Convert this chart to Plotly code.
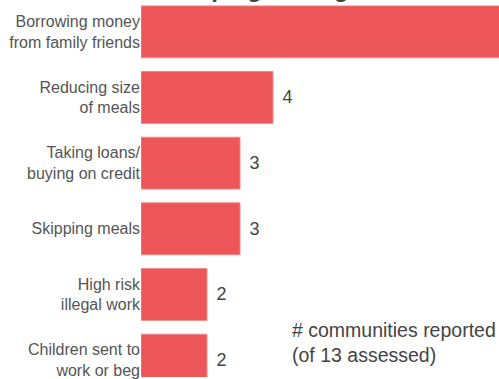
import plotly.graph_objects as go

categories = [
    "Borrowing money<br>from family friends",
    "Reducing size<br>of meals",
    "Taking loans/<br>buying on credit",
    "Skipping meals",
    "High risk<br>illegal work",
    "Children sent to<br>work or beg",
]
values = [11, 4, 3, 3, 2, 2]
title_text = "<b>Main coping strategies</b>"
note_text = "# communities reported<br>(of 13 assessed)"

FONT = "Liberation Sans, Arial, sans-serif"

fig = go.Figure(
    go.Bar(
        x=values,
        y=categories,
        orientation="h",
        marker=dict(color="#EC5658", line=dict(color="#F28A8B", width=1)),
        text=values,
        texttemplate="&nbsp;\u200a%{x}",
        textposition="outside",
        textfont=dict(family=FONT, size=18, color="#444444"),
        cliponaxis=True,
        hoverinfo="skip",
    )
)

fig.update_layout(
    width=499,
    height=379,
    margin=dict(l=141, r=0, t=0, b=0),
    paper_bgcolor="white",
    plot_bgcolor="white",
    bargap=0.21,
    showlegend=False,
    font=dict(family=FONT),
    xaxis=dict(range=[0, 358 / 33], visible=False, fixedrange=True),
    yaxis=dict(
        type="category",
        range=[(379 - 32) / 66, -32 / 66],
        showgrid=False,
        zeroline=False,
        showline=False,
        ticks="",
        fixedrange=True,
        tickfont=dict(family=FONT, size=16, color="#555555"),
    ),
    annotations=[
        dict(
            text=note_text,
            xref="paper", yref="paper",
            x=(290 - 141) / 358, y=(379 - 319) / 379,
            xanchor="left", yanchor="top",
            align="left", showarrow=False,
            font=dict(family=FONT, size=19.5, color="#444444"),
        ),
        dict(
            text=title_text,
            xref="paper", yref="paper",
            x=(252 - 141) / 358, y=1.0 - 4 / 379,
            xanchor="center", yanchor="bottom",
            showarrow=False,
            font=dict(family=FONT, size=24, color="#444444"),
        ),
    ],
)

fig.write_html(
    "out.html",
    config=dict(displayModeBar=False, staticPlot=True),
    post_script="document.body.style.margin='0';document.body.style.overflow='hidden';",
)
